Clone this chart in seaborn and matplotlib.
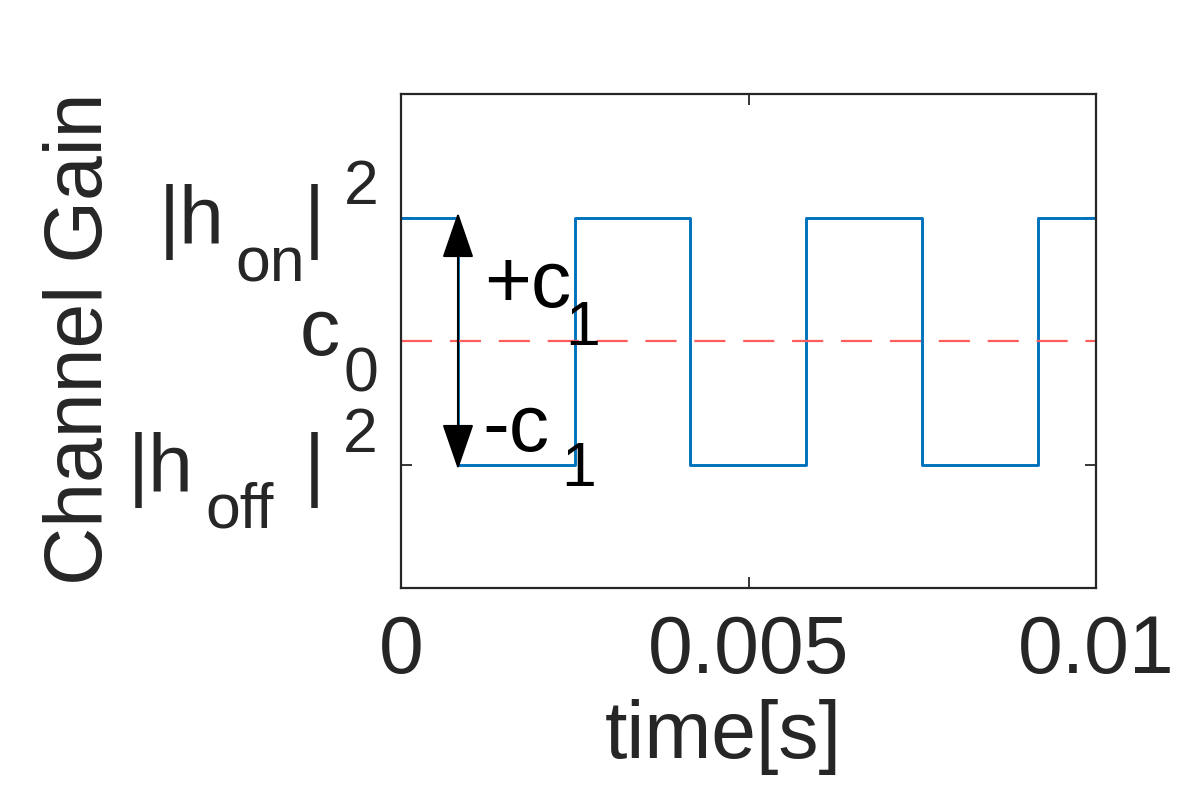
import matplotlib
matplotlib.use("Agg")
import matplotlib.pyplot as plt
import seaborn as sns
import pandas as pd

# square wave channel gain (switch times)
time_s = [0.0, 0.00082, 0.00250, 0.00416, 0.00583, 0.00750, 0.00917, 0.01]
gain = [1, 0, 1, 0, 1, 0, 1, 1]
h_off, h_on = 0, 1
c0 = 0.5
x_ticks = [0, 0.005, 0.01]
x_tick_labels = ["0", "0.005", "0.01"]

sns.set_theme(style="white")
plt.rcParams["font.family"] = ["Liberation Sans", "DejaVu Sans"]

BIG = 58
SMALL = 45
INK = "#262626"

fig = plt.figure(figsize=(11.96, 7.93), dpi=100)
ax = fig.add_axes([401 / 1196, 205 / 793, 695 / 1196, 494 / 793])

df = pd.DataFrame({"time": time_s, "gain": gain})
sns.lineplot(data=df, x="time", y="gain", drawstyle="steps-post",
             color="#0072BD", lw=2.1, ax=ax)
ax.axhline(c0, color="#ff5c5c", lw=1.6, linestyle=(0, (14, 8)))

ax.set_xlim(0, 0.01)
ax.set_ylim(-0.5, 1.5)
ax.set_xticks(x_ticks)
ax.set_xticklabels(x_tick_labels, fontsize=BIG, color=INK)
ax.set_yticks([h_off, h_on])
ax.set_yticklabels(["", ""])
ax.tick_params(direction="in", length=8, width=1.3, color=INK,
               top=True, right=True, bottom=True, left=True)
ax.tick_params(axis="x", pad=19)
for sp in ax.spines.values():
    sp.set_color(INK)
    sp.set_linewidth(1.6)

ax.set_xlabel("time[s]", fontsize=BIG, color=INK)
ax.xaxis.set_label_coords(0.463, -0.2247)
ax.xaxis.label.set_va("top")
ax.set_ylabel("Channel Gain", fontsize=BIG, color=INK)
ax.yaxis.set_label_coords(-0.430, 0.505)
ax.yaxis.label.set_va("baseline")


def piece(s, y, dx, dy, size):
    ax.annotate(s, xy=(0, y), xycoords=("axes fraction", "data"),
                xytext=(dx, dy), textcoords="offset pixels",
                ha="left", va="baseline", fontsize=size, color=INK,
                annotation_clip=False)


# |h_on|^2
piece("|h", h_on, -242, -26, BIG)
piece("on", h_on, -166, -64, SMALL)
piece("|", h_on, -97, -26, BIG)
piece("2", h_on, -57, 13, SMALL)
# c_0
piece("c", c0, -101, -14, BIG)
piece("0", c0, -57, -51, SMALL)
# |h_off|^2
piece("|h", h_off, -273, -26, BIG)
piece("off", h_off, -196, -63, SMALL)
piece("|", h_off, -97, -26, BIG)
piece("2", h_off, -58, 13, SMALL)

# double arrow marking +c1 / -c1 around c0
arrow_t = time_s[1]
ax.annotate("", xy=(arrow_t, h_on + 0.02), xytext=(arrow_t, h_off - 0.02),
            arrowprops=dict(arrowstyle="<|-|>,head_length=1.45,head_width=0.5",
                            color="black", lw=1.5, shrinkA=0, shrinkB=0,
                            mutation_scale=20))


def note(s, y, dx, dy, size):
    ax.annotate(s, xy=(arrow_t, y), xycoords="data",
                xytext=(dx, dy), textcoords="offset pixels",
                ha="left", va="baseline", fontsize=size, color="black")


note("+c", c0, 26, 34, BIG)
note("1", c0, 107, -4, SMALL)
note("-c", h_off, 24, 13, BIG)
note("1", h_off, 103, -22, SMALL)

fig.savefig("out.png", dpi=100)
